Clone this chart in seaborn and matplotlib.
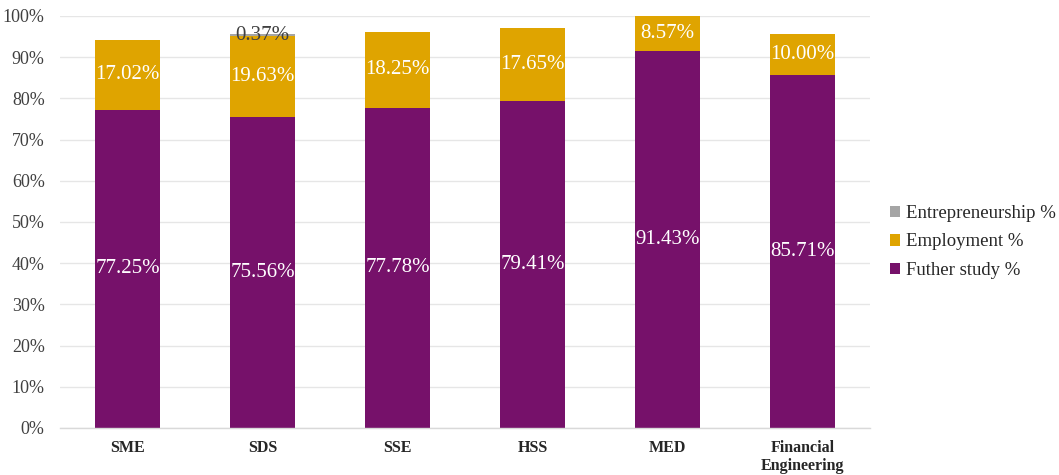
import matplotlib
matplotlib.use("Agg")
import matplotlib.pyplot as plt
import seaborn as sns
import numpy as np
import pandas as pd

categories = ["SME", "SDS", "SSE", "HSS", "MED", "Financial\nEngineering"]
further_study = [77.25, 75.56, 77.78, 79.41, 91.43, 85.71]
employment = [17.02, 19.63, 18.25, 17.65, 8.57, 10.00]
entrepreneurship = [0.0, 0.37, 0.0, 0.0, 0.0, 0.0]

c_further = "#76116A"
c_employ = "#DFA400"
c_entre = "#A5A5A5"

sns.set_theme(style="white")
plt.rcParams['font.family'] = ['Liberation Serif', 'DejaVu Serif']

fig = plt.figure(figsize=(10.59, 4.75), dpi=100)
ax = fig.add_axes([60/1059, 47/475, 810/1059, 412/475])

df = pd.DataFrame({"cat": categories, "further": further_study,
                   "employ": employment, "entre": entrepreneurship})
bottom2 = np.array(further_study)
bottom3 = bottom2 + np.array(employment)

w = 0.48
sns.barplot(data=df, x="cat", y="further", color=c_further, width=w, ax=ax,
            saturation=1, label="Futher study %", linewidth=0)
sns.barplot(data=df, x="cat", y="employ", color=c_employ, width=w, ax=ax,
            saturation=1, bottom=bottom2, label="Employment %", linewidth=0)
sns.barplot(data=df, x="cat", y="entre", color=c_entre, width=w, ax=ax,
            saturation=1, bottom=bottom3, label="Entrepreneurship %", linewidth=0)

fs = 15
for i in range(len(categories)):
    ax.text(i, further_study[i] / 2, f"{further_study[i]:.2f}%", ha="center",
            va="center", color="white", fontsize=fs)
    ax.text(i, bottom2[i] + employment[i] / 2, f"{employment[i]:.2f}%", ha="center",
            va="center", color="white", fontsize=fs)
    if entrepreneurship[i] > 0:
        ax.text(i, bottom3[i] + entrepreneurship[i] / 2, f"{entrepreneurship[i]:.2f}%",
                ha="center", va="center", color="#404040", fontsize=fs)

ax.set_ylim(0, 100)
ax.set_xlim(-0.5, len(categories) - 0.5)
ax.set_yticks(np.arange(0, 101, 10))
ax.set_yticklabels([f"{v}%" for v in range(0, 101, 10)], fontsize=13, color="#404040")
ax.yaxis.grid(True, color="#E6E6E6", linewidth=1)
ax.set_axisbelow(True)
ax.set_xlabel("")
ax.set_ylabel("")
ax.tick_params(axis="x", length=0, pad=9)
ax.tick_params(axis="y", length=0, pad=11)
for lbl in ax.get_xticklabels():
    lbl.set_fontweight("bold")
    lbl.set_fontsize(11.5)
    lbl.set_color("#262626")
    lbl.set_linespacing(1.1)
for s in ["top", "right", "left"]:
    ax.spines[s].set_visible(False)
ax.spines["bottom"].set_color("#D9D9D9")
ax.spines["bottom"].set_linewidth(1)

handles, labels = ax.get_legend_handles_labels()
order = [2, 1, 0]
ax.legend([handles[k] for k in order], [labels[k] for k in order],
          loc="center left", bbox_to_anchor=(890/1059, 233/475),
          bbox_transform=fig.transFigure, frameon=False, fontsize=13.5,
          borderpad=0, borderaxespad=0,
          handlelength=0.55, handleheight=0.55, handletextpad=0.3,
          labelspacing=0.62, labelcolor="#262626")

fig.savefig("out.png", dpi=100, facecolor="white")
